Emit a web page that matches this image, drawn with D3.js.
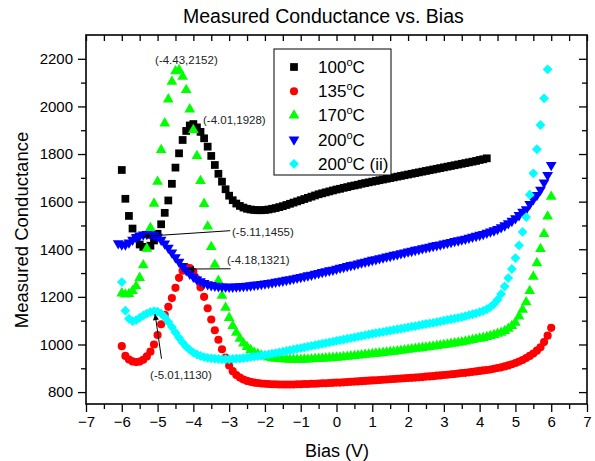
<!DOCTYPE html>
<html>
<head>
<meta charset="utf-8">
<script src="https://cdn.jsdelivr.net/npm/d3@7"></script>
<style>
  body { margin: 0; background: #fff; }
  svg { font-family: "Liberation Sans", Arial, sans-serif; }
</style>
</head>
<body>
<svg id="drawing_region"></svg>
<script>
// bias sweep step (V)
const bias_step = 0.1;

// 100 C, bias from -6.0 to 4.2
const black_start = -6.0;
const black_values = [
  1733, 1612, 1540, 1487, 1448, 1420, 1410, 1408, 1415, 1437,
  1465, 1505, 1553, 1605, 1675, 1743, 1803, 1859, 1897, 1920,
  1926, 1912, 1893, 1866, 1831, 1792, 1754, 1717, 1684, 1652,
  1625, 1606, 1592, 1582, 1575, 1570, 1567, 1565, 1564, 1564,
  1565, 1567, 1570, 1573, 1577, 1581, 1586, 1591, 1596, 1601,
  1606, 1611, 1616, 1621, 1626, 1631, 1635, 1639, 1643, 1647,
  1651, 1654, 1658, 1661, 1665, 1668, 1671, 1675, 1678, 1681,
  1684, 1687, 1690, 1693, 1696, 1699, 1702, 1705, 1708, 1711,
  1714, 1717, 1720, 1723, 1726, 1729, 1732, 1735, 1738, 1741,
  1744, 1747, 1750, 1753, 1756, 1759, 1762, 1765, 1768, 1771,
  1775, 1778, 1782
];

// 135 C, -6.0 to 6.0
const red_start = -6.0;
const red_values = [
  993, 952, 937, 929, 926, 928, 936, 950, 970, 1000,
  1040, 1085, 1125, 1158, 1195, 1238, 1280, 1310, 1324, 1321,
  1305, 1275, 1240, 1200, 1152, 1105, 1060, 1020, 980, 945,
  912, 888, 872, 861, 853, 847, 843, 840, 838, 836,
  835, 834, 833, 833, 832, 832, 832, 832, 832, 833,
  833, 834, 834, 835, 835, 836, 837, 837, 838, 839,
  840, 840, 841, 842, 843, 844, 845, 846, 847, 848,
  849, 850, 851, 852, 853, 854, 855, 856, 857, 858,
  859, 860, 861, 862, 863, 865, 866, 867, 869, 870,
  872, 873, 875, 876, 878, 880, 881, 883, 885, 887,
  889, 891, 893, 895, 898, 901, 904, 908, 912, 917,
  922, 928, 935, 943, 952, 962, 974, 988, 1010, 1037,
  1070
];

// 170 C, -6.0 to 6.0
const green_start = -6.0;
const green_values = [
  1215, 1210, 1212, 1225, 1245, 1280, 1333, 1403, 1490, 1592,
  1684, 1817, 1929, 2030, 2104, 2148, 2153, 2125, 2069, 1988,
  1901, 1792, 1687, 1591, 1496, 1410, 1335, 1268, 1205, 1155,
  1112, 1078, 1050, 1025, 1005, 990, 977, 967, 960, 954,
  950, 946, 943, 941, 939, 938, 937, 936, 936, 936,
  936, 937, 937, 938, 939, 940, 941, 942, 943, 944,
  945, 946, 948, 949, 951, 952, 954, 955, 957, 958,
  960, 962, 963, 965, 967, 969, 970, 972, 974, 976,
  978, 980, 982, 984, 986, 988, 990, 992, 994, 996,
  998, 1000, 1003, 1005, 1008, 1010, 1013, 1016, 1019, 1022,
  1025, 1028, 1032, 1036, 1040, 1045, 1050, 1057, 1066, 1078,
  1092, 1118, 1146, 1178, 1225, 1285, 1342, 1401, 1464, 1538,
  1621
];

// 200 C, -6.1 to 6.0
const blue_start = -6.1;
const blue_values = [
  1425, 1420, 1420, 1428, 1440, 1450, 1457, 1462, 1464, 1463,
  1459, 1452, 1440, 1424, 1406, 1386, 1366, 1347, 1329, 1312,
  1297, 1284, 1273, 1265, 1258, 1253, 1249, 1246, 1244, 1243,
  1242, 1242, 1242, 1243, 1244, 1245, 1246, 1248, 1250, 1252,
  1254, 1256, 1258, 1260, 1263, 1265, 1268, 1271, 1274, 1277,
  1280, 1283, 1286, 1290, 1293, 1297, 1300, 1304, 1307, 1311,
  1314, 1318, 1322, 1325, 1329, 1333, 1336, 1340, 1344, 1347,
  1351, 1355, 1358, 1362, 1365, 1369, 1372, 1376, 1379, 1383,
  1386, 1390, 1393, 1397, 1400, 1404, 1407, 1410, 1414, 1417,
  1420, 1424, 1427, 1430, 1434, 1437, 1441, 1444, 1448, 1452,
  1456, 1460, 1464, 1469, 1474, 1479, 1485, 1492, 1500, 1509,
  1519, 1530, 1543, 1557, 1568, 1590, 1610, 1628, 1650, 1680,
  1712, 1754
];

// 200 C (ii), -6.0 to 5.9
const cyan_start = -6.0;
const cyan_values = [
  1262, 1142, 1108, 1098, 1102, 1112, 1122, 1130, 1136, 1140,
  1138, 1130, 1115, 1095, 1073, 1050, 1028, 1008, 991, 977,
  966, 958, 952, 947, 944, 942, 940, 939, 938, 938,
  938, 939, 940, 941, 943, 945, 947, 949, 951, 953,
  956, 958, 961, 964, 967, 970, 973, 976, 979, 982,
  985, 988, 991, 994, 997, 1000, 1003, 1006, 1009, 1012,
  1015, 1018, 1021, 1024, 1027, 1030, 1033, 1036, 1039, 1042,
  1045, 1048, 1050, 1053, 1056, 1058, 1061, 1064, 1066, 1069,
  1072, 1075, 1077, 1080, 1083, 1086, 1089, 1091, 1094, 1097,
  1100, 1103, 1106, 1109, 1112, 1115, 1119, 1123, 1127, 1131,
  1136, 1141, 1148, 1157, 1170, 1188, 1212, 1244, 1279, 1317,
  1363, 1416, 1473, 1535, 1629, 1719, 1820, 1922, 2034, 2156
];

const series_names = ['100', '135', '170', '200', '200'];
const series_suffix = ['', '', '', '', ' (ii)'];

const x_ticks = d3.range(-7, 8, 1);
const y_ticks = [800, 1000, 1200, 1400, 1600, 1800, 2000, 2200];

// peak labels: text position, arrow tail and arrow head (data units)
const notes = [
  { text: '(-4.43,2152)', tx: -5.07, ty: 2178 },
  { text: '(-4.01,1928)', tx: -3.73, ty: 1926 },
  { text: '(-5.11,1455)', tx: -2.92, ty: 1457, ax: -2.97, ay: 1478, hx: -5.40, hy: 1454 },
  { text: '(-4.18,1321)', tx: -3.06, ty: 1336, ax: -2.96, ay: 1318, hx: -4.15, hy: 1317 },
  { text: '(-5.01,1130)', tx: -5.21, ty: 853, ax: -4.89, ay: 940, hx: -5.07, hy: 1128 }
];

const config = {
  width: 595,
  height: 461,
  margin: { top: 35, right: 8, bottom: 57, left: 86 }
};

const svg = d3.select('#drawing_region')
  .attr('width', config.width)
  .attr('height', config.height);

const inner_width = config.width - config.margin.left - config.margin.right;
const inner_height = config.height - config.margin.top - config.margin.bottom;

const chart = svg.append('g')
  .attr('transform', `translate(${config.margin.left}, ${config.margin.top})`);

const xscale = d3.scaleLinear().domain([-7, 7]).range([0, inner_width]);
const yscale = d3.scaleLinear().domain([750, 2300]).range([inner_height, 0]);

function to_points(start, values) {
  return values.map((v, i) => ({ x: start + i * bias_step, y: v }));
}

const series = [
  { data: to_points(black_start, black_values), color: '#000000', type: d3.symbolSquare, size: 60, r: 0 },
  { data: to_points(red_start, red_values), color: '#ff0000', type: d3.symbolCircle, size: 52, r: 0 },
  { data: to_points(green_start, green_values), color: '#00ff00', type: d3.symbolTriangle, size: 50, r: 0 },
  { data: to_points(blue_start, blue_values), color: '#0000ff', type: d3.symbolTriangle, size: 50, r: 180 },
  { data: to_points(cyan_start, cyan_values), color: '#00ffff', type: d3.symbolSquare, size: 48, r: 45 }
];

// axes
const minor_x = d3.range(-6.5, 7, 1);
const minor_y = d3.range(900, 2300, 200);

chart.append('g')
  .attr('transform', `translate(0, ${inner_height})`)
  .call(d3.axisBottom(xscale).tickValues(x_ticks).tickSize(8).tickPadding(4).tickFormat(d3.format('d')))
  .call(g => g.selectAll('text').attr('font-size', 15).attr('font-family', 'Liberation Sans, Arial'));

chart.append('g')
  .attr('transform', `translate(0, ${inner_height})`)
  .call(d3.axisBottom(xscale).tickValues(minor_x).tickSize(5).tickFormat(''));

chart.append('g')
  .call(d3.axisLeft(yscale).tickValues(y_ticks).tickSize(8).tickPadding(5).tickFormat(d3.format('d')))
  .call(g => g.selectAll('text').attr('font-size', 15).attr('font-family', 'Liberation Sans, Arial'));

chart.append('g')
  .call(d3.axisLeft(yscale).tickValues(minor_y).tickSize(5).tickFormat(''));

chart.append('g')
  .call(d3.axisTop(xscale).tickValues(x_ticks).tickSize(-6).tickFormat(''));
chart.append('g')
  .call(d3.axisTop(xscale).tickValues(minor_x).tickSize(-6).tickFormat(''));

chart.append('g')
  .attr('transform', `translate(${inner_width}, 0)`)
  .call(d3.axisRight(yscale).tickValues(y_ticks).tickSize(-8).tickFormat(''));
chart.append('g')
  .attr('transform', `translate(${inner_width}, 0)`)
  .call(d3.axisRight(yscale).tickValues(minor_y).tickSize(-5).tickFormat(''));

chart.selectAll('.domain').remove();
chart.selectAll('.tick line').attr('stroke', '#000').attr('stroke-width', 1.3);

chart.append('rect')
  .attr('width', inner_width)
  .attr('height', inner_height)
  .attr('fill', 'none')
  .attr('stroke', '#000')
  .attr('stroke-width', 1.6);

// markers
const marks = chart.append('g');
series.forEach(s => {
  const sym = d3.symbol().type(s.type).size(s.size);
  marks.append('g').selectAll('path')
    .data(s.data)
    .join('path')
    .attr('d', sym)
    .attr('fill', s.color)
    .attr('transform', d => `translate(${xscale(d.x)}, ${yscale(d.y)}) rotate(${s.r})`);
});

// annotations
svg.append('defs').append('marker')
  .attr('id', 'arrow')
  .attr('viewBox', '0 0 10 10')
  .attr('refX', 10).attr('refY', 5)
  .attr('markerWidth', 9).attr('markerHeight', 6)
  .attr('markerUnits', 'userSpaceOnUse')
  .attr('orient', 'auto')
  .append('path')
  .attr('d', 'M0,0 L10,5 L0,10 z')
  .attr('fill', '#000');

const note_g = chart.append('g');
notes.filter(n => n.ax !== undefined).forEach(n => {
  note_g.append('line')
    .attr('x1', xscale(n.ax)).attr('y1', yscale(n.ay))
    .attr('x2', xscale(n.hx)).attr('y2', yscale(n.hy))
    .attr('stroke', '#000')
    .attr('stroke-width', 1)
    .attr('marker-end', 'url(#arrow)');
});
note_g.selectAll('text')
  .data(notes)
  .join('text')
  .attr('x', d => xscale(d.tx))
  .attr('y', d => yscale(d.ty))
  .attr('font-size', 11.5)
  .attr('fill', '#222')
  .text(d => d.text);

// legend
const legend = svg.append('g').attr('transform', 'translate(274, 49)');
legend.append('rect')
  .attr('width', 117)
  .attr('height', 126)
  .attr('fill', '#fff')
  .attr('stroke', '#000')
  .attr('stroke-width', 1);

series.forEach((s, i) => {
  const row = legend.append('g').attr('transform', `translate(0, ${18 + i * 24.2})`);
  row.append('path')
    .attr('d', d3.symbol().type(s.type).size(s.size)())
    .attr('fill', s.color)
    .attr('transform', `translate(20, 0) rotate(${s.r})`);
  const t = row.append('text')
    .attr('x', 44)
    .attr('y', 6)
    .attr('font-size', 17);
  t.append('tspan').text(series_names[i]);
  t.append('tspan').attr('dy', -7).attr('font-size', 11).text('o');
  t.append('tspan').attr('dy', 7).text('C' + series_suffix[i]);
});

// titles
svg.append('text')
  .attr('x', 183)
  .attr('y', 23)
  .attr('font-size', 19.5)
  .text('Measured Conductance vs. Bias');

svg.append('text')
  .attr('x', 337)
  .attr('y', 457)
  .attr('text-anchor', 'middle')
  .attr('font-size', 18)
  .text('Bias (V)');

svg.append('text')
  .attr('transform', 'translate(28, 230) rotate(-90)')
  .attr('text-anchor', 'middle')
  .attr('font-size', 18.5)
  .text('Measured Conductance');
</script>
</body>
</html>
